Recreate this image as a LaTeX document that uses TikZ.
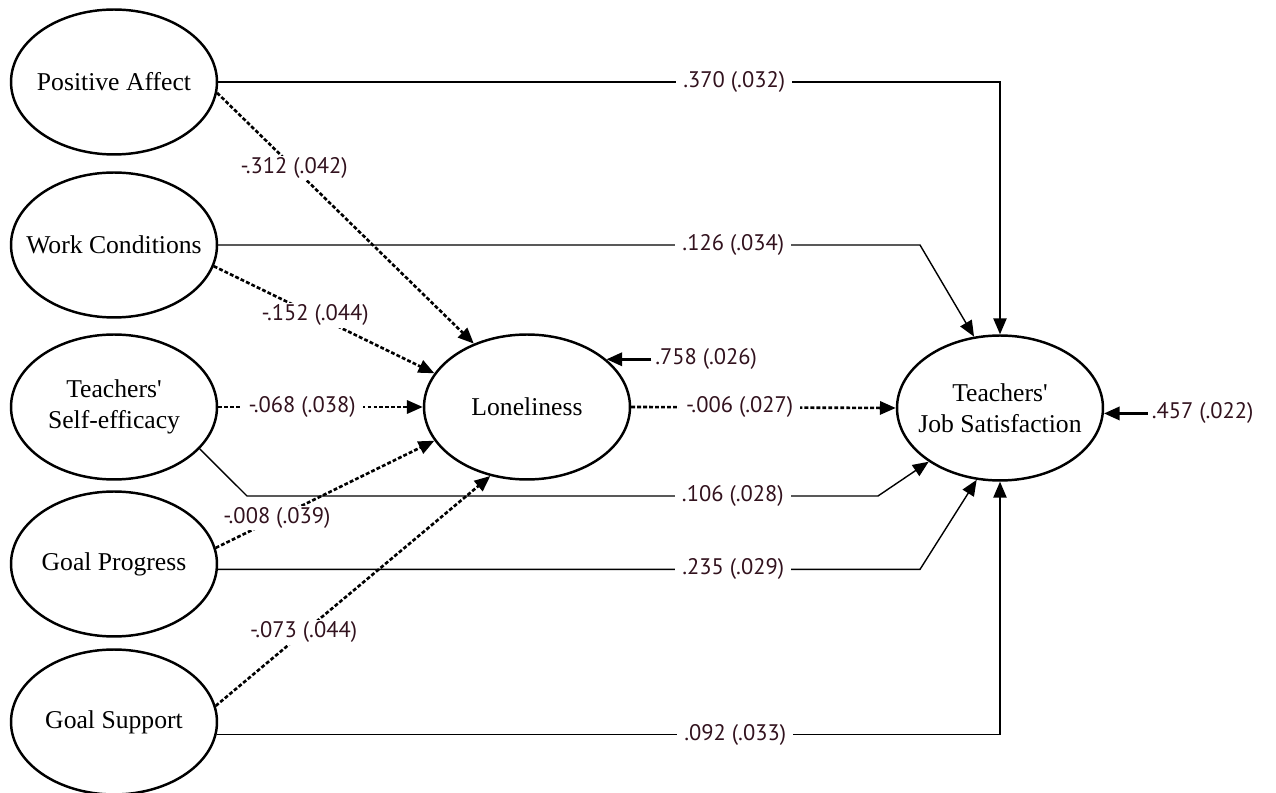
\documentclass[tikz,border=0pt]{standalone}
\usepackage{fontspec}
\setmainfont{Liberation Serif}
\newfontfamily\coeffont{PT Sans}
\usetikzlibrary{shapes.geometric,arrows.meta}
\definecolor{coefcolor}{RGB}{50,18,30}

\begin{document}
\begin{tikzpicture}[x=0.02cm,y=-0.02cm]
            \tikzstyle{latent}=[draw,ellipse,line width=1.4pt,minimum width=4.12cm,minimum height=2.9cm,inner xsep=-20pt,inner ysep=-6pt,align=center,font=\fontsize{14.6}{17.6}\selectfont]
            \tikzstyle{coef}=[fill=white,text=coefcolor,font=\coeffont\fontsize{12.8}{14}\selectfont,inner xsep=4pt,inner ysep=1pt]
            \tikzstyle{direct}=[line width=0.8pt,-{Triangle[length=9pt,width=7.5pt]}]
            \tikzstyle{indirect}=[line width=1.5pt,dash pattern=on 2.2pt off 1.2pt,-{Triangle[length=9pt,width=7.5pt]}]
            \tikzstyle{resid}=[line width=1.8pt,-{Triangle[length=9pt,width=7.5pt]}]
            \useasboundingbox (0,0) rectangle (1276,793);
            \node[latent] (pa) at (114,82) {Positive Affect};
            \node[latent] (wc) at (114,245) {Work Conditions};
            \node[latent] (tse) at (114,407) {Teachers\textquotesingle\\Self-efficacy};
            \node[latent] (gp) at (114,564) {Goal Progress};
            \node[latent] (gs) at (114,722) {Goal Support};
            \node[latent] (lon) at (527,407) {Loneliness};
            \node[latent] (js) at (1000,408) {Teachers\textquotesingle\\Job Satisfaction};
            \draw[direct] (pa.east) -- node[coef,pos=0.66] {.370 (.032)} (pa.east -| js.north) -- (js.north);
            \draw[direct] (wc.east) -- node[coef,pos=0.734] {.126 (.034)} (920,245) -- (js.110);
            \draw[direct] (tse.-26) -- (247,496) -- node[coef,pos=0.77] {.106 (.028)} (878,496) -- (js.217);
            \draw[direct] (gp.-3) -- node[coef,pos=0.734] {.235 (.029)} (920,569.4) -- (js.252);
            \draw[direct] (gs.-7) -- node[coef,pos=0.662] {.092 (.033)} (gs.-7 -| js.south) -- (js.south);
            \draw[indirect] (pa.-6) -- node[coef,pos=0.3] {-.312 (.042)} (lon.130);
            \draw[indirect] (wc.-12) -- node[coef,pos=0.46] {-.152 (.044)} (lon.160);
            \draw[indirect] (tse.east) -- node[coef,pos=0.41] {-.068 (.038)} (lon.west);
            \draw[indirect] (gp.9) -- node[coef,pos=0.28] {-.008 (.039)} (lon.200);
            \draw[indirect] (gs.9) -- node[coef,pos=0.32] {-.073 (.044)} (lon.242);
            \draw[indirect] (lon.east) -- node[coef,pos=0.41] {-.006 (.027)} (js.west);
            \coordinate (lontail) at ([xshift=0.9cm]lon.31);
            \node[coef,anchor=west,inner xsep=2pt] (lonres) at (lontail) {.758 (.026)};
            \draw[resid] (lonres.west) -- (lon.31);
            \coordinate (jstail) at ([xshift=0.88cm]js.-3);
            \node[coef,anchor=west,inner xsep=2pt] (jsres) at (jstail) {.457 (.022)};
            \draw[resid] (jsres.west) -- (js.-3);
\end{tikzpicture}
\end{document}
